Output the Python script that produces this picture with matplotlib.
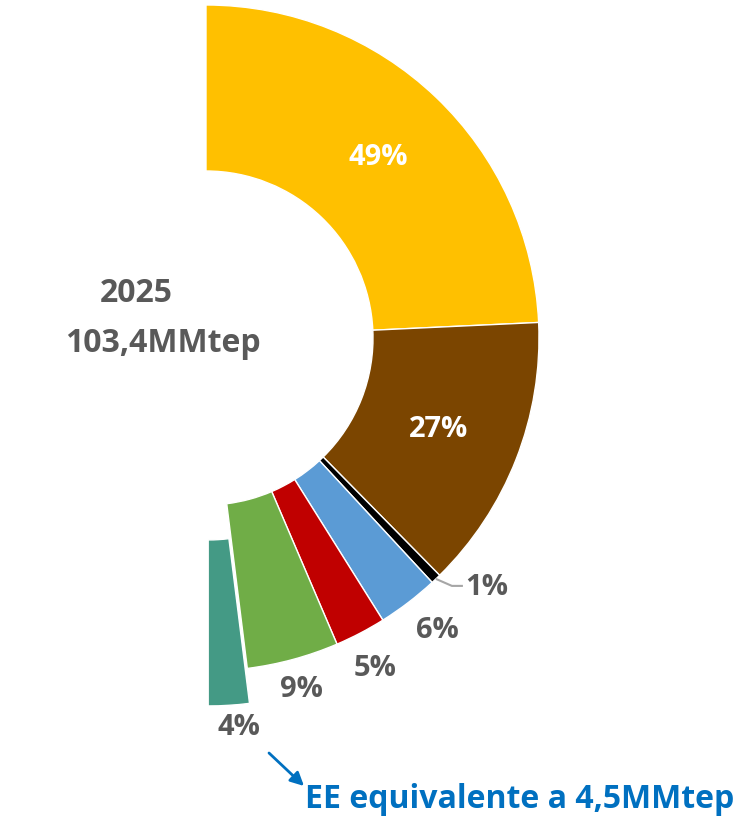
"""Half donut: 2025 energy mix (103,4MMtep)."""

import numpy as np
import matplotlib.pyplot as plt

# data
LABELS = ["49%", "27%", "1%", "6%", "5%", "9%", "4%"]
VALUES = [49, 27, 1, 6, 5, 9, 4]
COLORS = ["#FFC000", "#7B4500", "#000000", "#5B9BD5", "#C00000", "#70AD47", "#449A85"]
EXPLODE = [0, 0, 0, 0, 0, 0, 35]
CENTER_TEXT = ["2025", "103,4MMtep"]
NOTE = "EE equivalente a 4,5MMtep"

GRAY = "#595959"
BLUE = "#0070C0"
FONT = "Open Sans"

W, H = 741, 822
CX, CY = 206, H - 338
R, R_IN = 333, 167


def main() -> None:
    fig = plt.figure(figsize=(W / 100, H / 100), dpi=100)
    ax = fig.add_axes([0, 0, 1, 1])

    # second half of the circle is an invisible wedge
    vals = VALUES + [sum(VALUES)]
    cols = COLORS + ["none"]
    expl = EXPLODE + [0]
    wedges, _ = ax.pie(
        vals,
        colors=cols,
        explode=expl,
        startangle=90,
        counterclock=False,
        radius=R,
        center=(CX, CY),
        wedgeprops=dict(width=R - R_IN, edgecolor="white", linewidth=1.0),
    )
    wedges[-1].set_edgecolor("none")

    ax.set_xlim(0, W)
    ax.set_ylim(0, H)
    ax.set_aspect("equal")
    ax.axis("off")

    # inside labels
    for i in (0, 1):
        w = wedges[i]
        a = np.deg2rad((w.theta1 + w.theta2) / 2)
        rr = (R + R_IN) / 2
        ax.text(CX + rr * np.cos(a), CY + rr * np.sin(a), LABELS[i],
                ha="center", va="center", fontsize=21, fontweight="bold",
                color="white", family=FONT)

    # outside labels: (radius factor, angle nudge in degrees)
    place = {3: (1.12, 1.0), 4: (1.115, -0.5), 5: (1.095, 0.0), 6: (1.07, 1.4)}
    for i, (d, nudge) in place.items():
        w = wedges[i]
        a = np.deg2rad((w.theta1 + w.theta2) / 2 + nudge)
        cx, cy = w.center
        ax.text(cx + d * R * np.cos(a), cy + d * R * np.sin(a), LABELS[i],
                ha="center", va="center", fontsize=21, fontweight="bold",
                color=GRAY, family=FONT)

    # 1% with leader line
    w = wedges[2]
    a = np.deg2rad((w.theta1 + w.theta2) / 2)
    x0, y0 = CX + R * np.cos(a), CY + R * np.sin(a)
    ax.plot([x0, x0 + 16, x0 + 27], [y0, y0 - 7, y0 - 7],
            color="#A6A6A6", lw=1.5, solid_capstyle="butt")
    ax.text(x0 + 29, y0 - 9, LABELS[2], ha="left", va="center",
            fontsize=21, fontweight="bold", color=GRAY, family=FONT)

    # center text
    ax.text(136, H - 293, CENTER_TEXT[0], ha="center", va="center",
            fontsize=23, fontweight="bold", color=GRAY, family=FONT)
    ax.text(163, H - 343, CENTER_TEXT[1], ha="center", va="center",
            fontsize=23, fontweight="bold", color=GRAY, family=FONT)

    # note with arrow
    ax.annotate("", xy=(304, H - 786), xytext=(269, H - 753),
                arrowprops=dict(arrowstyle="-|>", color=BLUE, lw=2,
                                mutation_scale=20, shrinkA=0, shrinkB=0))
    ax.text(305, H - 800, NOTE, ha="left", va="center", fontsize=23,
            fontweight="bold", color=BLUE, family=FONT)

    fig.savefig("out.png", dpi=100, facecolor="white")
    plt.close(fig)


if __name__ == "__main__":
    main()
